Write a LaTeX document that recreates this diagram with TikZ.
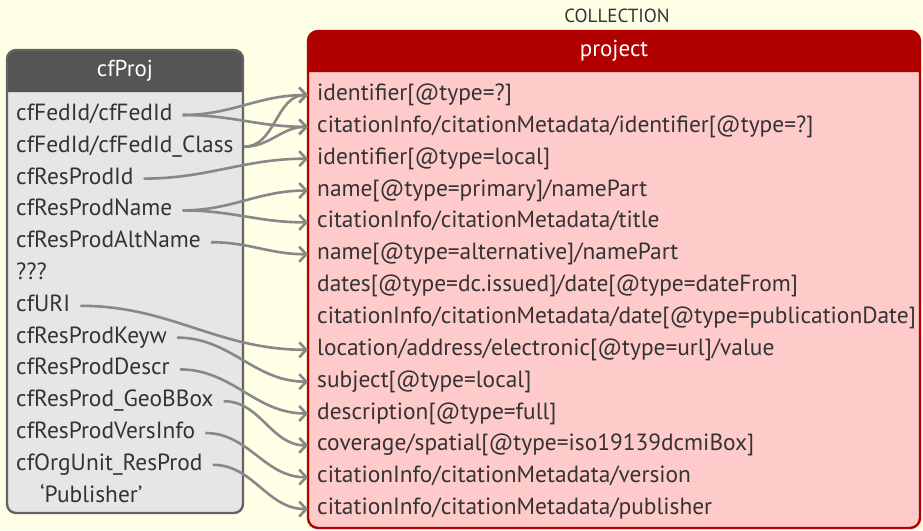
\documentclass[tikz,border=0pt]{standalone}
\usepackage{fontspec}
\setmainfont{PT Sans}
\usetikzlibrary{arrows.meta}

\definecolor{bgcream}{RGB}{255,255,230}
\definecolor{headgray}{RGB}{85,85,85}
\definecolor{bodygray}{RGB}{230,230,230}
\definecolor{edgegray}{RGB}{100,100,100}
\definecolor{headred}{RGB}{176,0,0}
\definecolor{bodypink}{RGB}{255,202,202}
\definecolor{txtgray}{RGB}{51,51,51}
\definecolor{linkgray}{RGB}{136,136,136}

\begin{document}
\begin{tikzpicture}[x=1pt,y=-1pt,
    rowtext/.style={inner ysep=0pt,text height=16pt,text depth=5pt,
      font=\fontsize{23.4}{26}\selectfont,text=txtgray},
    srcrow/.style={rowtext,anchor=west,inner xsep=10pt},
    tgtrow/.style={rowtext,anchor=west,inner xsep=9pt},
    headtext/.style={font=\fontsize{23}{27}\selectfont,text=white},
    link/.style={draw=linkgray,line width=2.6pt,
      -{Straight Barb[length=7pt,width=15pt]}}]
		\fill[bgcream] (0,0) rectangle (923,530);
		\useasboundingbox (0,0) rectangle (923,530);

		% cfProj box
		\fill[bodygray,rounded corners=9pt] (7,50) rectangle (243,513);
		\fill[headgray] (7,92) [rounded corners=9pt] -- (7,50) -- (243,50) [sharp corners] -- (243,92) -- cycle;
		\draw[edgegray,line width=2.4pt,rounded corners=9pt] (7,50) rectangle (243,513);
		\node[headtext] (cfproj) at (125,71) {cfProj};

		% project box
		\node[font=\fontsize{19}{22}\selectfont,text=txtgray] (coll) at (617,16) {COLLECTION};
		\fill[bodypink,rounded corners=10pt] (308,31) rectangle (920,528);
		\fill[headred] (308,72) [rounded corners=10pt] -- (308,31) -- (920,31) [sharp corners] -- (920,72) -- cycle;
		\draw[headred,line width=2.4pt,rounded corners=10pt] (308,31) rectangle (920,528);
		\node[headtext] (project) at (614,51) {project};

		\foreach \t [count=\i] in {{cfFedId/cfFedId},{cfFedId/cfFedId\_Class},{cfResProdId},
		    {cfResProdName},{cfResProdAltName},{???},{cfURI},{cfResProdKeyw},{cfResProdDescr},
		    {cfResProd\_GeoBBox},{cfResProdVersInfo},{cfOrgUnit\_ResProd}}
		\node[srcrow] (s\i) at (6,{115+(\i-1)*31.8}) {\t};
		\node[srcrow] (s13) at (30,{115+12*31.8}) {`Publisher'};

		\foreach \t [count=\i] in {{identifier[@type=?]},
		    {citationInfo/citationMetadata/identifier[@type=?]},
		    {identifier[@type=local]},
		    {name[@type=primary]/namePart},
		    {citationInfo/citationMetadata/title},
		    {name[@type=alternative]/namePart},
		    {dates[@type=dc.issued]/date[@type=dateFrom]},
		    {citationInfo/citationMetadata/date[@type=publicationDate]},
		    {location/address/electronic[@type=url]/value},
		    {subject[@type=local]},
		    {description[@type=full]},
		    {coverage/spatial[@type=iso19139dcmiBox]},
		    {citationInfo/citationMetadata/version},
		    {citationInfo/citationMetadata/publisher}}
		\node[tgtrow] (t\i) at (308,{95+(\i-1)*31.85}) {\t};

		\foreach \a/\b in {1/1,1/2,2/1,2/2,3/3,4/4,4/5,5/6,7/9,8/10,9/11,10/12,11/13,12/14}
		\draw[link] (s\a.east) to[out=0,in=180] (t\b.west);

	    \end{tikzpicture}
\end{document}
